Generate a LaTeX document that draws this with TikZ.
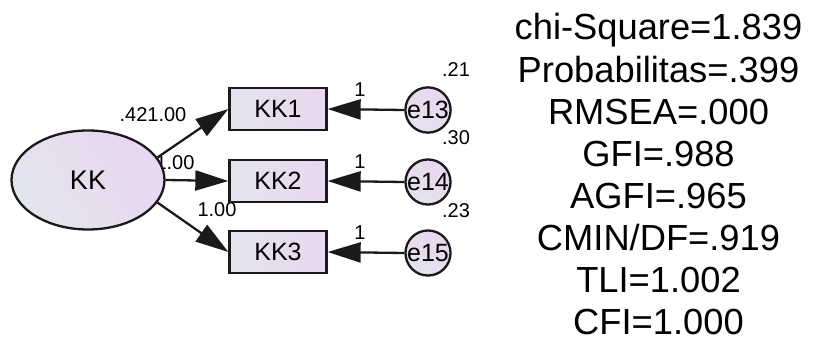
\documentclass[tikz,border=0pt]{standalone}
\usepackage{fontspec}
\setmainfont{Liberation Sans}
\usetikzlibrary{arrows.meta,shapes.geometric}
\definecolor{fillA}{HTML}{E2E4EE}
\definecolor{fillB}{HTML}{EAD6F0}
\definecolor{edge}{HTML}{1A1A1A}
\tikzset{
  fsz/.style={font=\fontsize{#1}{#1}\selectfont},
  latent/.style={ellipse, draw=edge, line width=2.3pt, minimum width=153pt,
    minimum height=99pt, inner sep=0pt, left color=fillA, right color=fillB,
    shading angle=120, fsz=27},
  observed/.style={rectangle, draw=edge, line width=2.3pt, minimum width=97pt,
    minimum height=42pt, inner sep=0pt, left color=fillA, right color=fillB,
    fsz=25},
  errnode/.style={circle, draw=edge, line width=2.3pt, minimum size=45pt,
    inner sep=0pt, left color=fillA, right color=fillB, shading angle=150,
    fsz=25},
  est/.style={inner sep=0pt, fsz=20},
  path/.style={draw=edge, line width=2.3pt, -{Triangle[length=33pt,width=20pt]}},
  fit/.style={anchor=base, inner sep=0pt, fsz=36.3}
}
\begin{document}
\begin{tikzpicture}[x=1pt,y=-1pt]
\useasboundingbox (0,0) rectangle (815,347);
\fill[white] (0,0) rectangle (815,347);

% loading estimates (the middle one sits partly under the ellipse)
\node[est] (l1) at (153,115) {.421.00};
\node[est] (l2) at (175,163) {1.00};
\node[est] (l3) at (217,210) {1.00};

% latent factor, indicators and error terms
\node[latent] (KK) at (88,180) {KK};
\node[observed] (KK1) at (278,109) {KK1};
\node[observed] (KK2) at (278,181) {KK2};
\node[observed] (KK3) at (278,252) {KK3};
\node[errnode] (e13) at (428,110) {e13};
\node[errnode] (e14) at (428,182) {e14};
\node[errnode] (e15) at (428,253) {e15};

% factor loadings
\draw[path] (KK.18) -- (KK1.west);
\draw[path] (KK.east) -- (KK2.west);
\draw[path] (KK.-18) -- (KK3.west);

% error paths
\draw[path] (e13.west) -- (KK1.east);
\draw[path] (e14.west) -- (KK2.east);
\draw[path] (e15.west) -- (KK3.east);

% fixed error weights and variances
\node[est] (w1) at (360,90) {1};
\node[est] (w2) at (360,162) {1};
\node[est] (w3) at (360,233) {1};
\node[est] (v1) at (456,70) {.21};
\node[est] (v2) at (456,138) {.30};
\node[est] (v3) at (456,211) {.23};

% fit indices
\node[fit] (f1) at (658.5,40.0) {chi-Square=1.839};
\node[fit] (f2) at (658.5,82.1) {Probabilitas=.399};
\node[fit] (f3) at (658.5,124.3) {RMSEA=.000};
\node[fit] (f4) at (658.5,166.4) {GFI=.988};
\node[fit] (f5) at (658.5,208.6) {AGFI=.965};
\node[fit] (f6) at (658.5,250.7) {CMIN/DF=.919};
\node[fit] (f7) at (658.5,292.9) {TLI=1.002};
\node[fit] (f8) at (658.5,335.0) {CFI=1.000};
\end{tikzpicture}
\end{document}
